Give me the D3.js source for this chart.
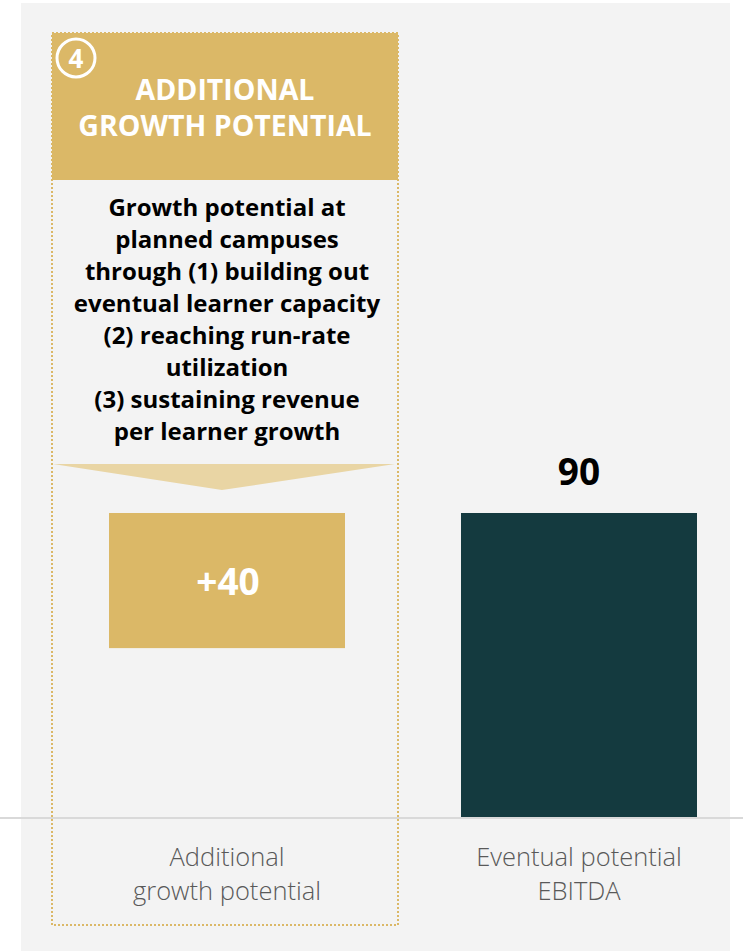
<!DOCTYPE html>
<html>
<head>
<meta charset="utf-8">
<script src="https://cdn.jsdelivr.net/npm/d3@7"></script>
<style>
  html, body { margin: 0; padding: 0; background: #ffffff; }
  svg { display: block; }
</style>
</head>
<body>
<svg id="chart" width="743" height="951"></svg>
<script>
// Bridge from planned-campus upside to eventual EBITDA
const categories = ["Additional growth potential", "Eventual potential EBITDA"];
const categoryLines = [["Additional", "growth potential"], ["Eventual potential", "EBITDA"]];
const barStart = [50, 0];
const barEnd = [90, 90];
const valueLabels = ["+40", "90"];
const calloutNumber = "4";
const calloutTitle = ["ADDITIONAL", "GROWTH POTENTIAL"];
const calloutBody = [
  "Growth potential at",
  "planned campuses",
  "through (1) building out",
  "eventual learner capacity",
  "(2) reaching run-rate",
  "utilization",
  "(3) sustaining revenue",
  "per learner growth"
];

const gold = "#dbb867";
const goldLight = "#e9d5a4";
const teal = "#143a3f";
const panel = "#f3f3f3";
const font = "'Open Sans', 'Noto Sans', sans-serif";

const svg = d3.select("#chart");

// Panel background
svg.append("rect").attr("x", 21).attr("y", 3).attr("width", 709).attr("height", 948).attr("fill", panel);

const x = d3.scaleBand().domain(categories).range([52, 756]).paddingInner(0).paddingOuter(0);
const y = d3.scaleLinear().domain([0, 90]).range([817, 513]);
const barW = 236;

// Dotted callout frame around the first category
const fx = x(categories[0]);
const fw = 346;
svg.append("rect")
  .attr("x", fx).attr("y", 33).attr("width", fw).attr("height", 892)
  .attr("fill", "none").attr("stroke", gold).attr("stroke-width", 2)
  .attr("stroke-dasharray", "2,2");

// Header block
svg.append("rect").attr("x", fx).attr("y", 33).attr("width", fw).attr("height", 147).attr("fill", gold);
svg.append("circle").attr("cx", 76).attr("cy", 58).attr("r", 19)
  .attr("fill", "none").attr("stroke", "#fff").attr("stroke-width", 3);
svg.append("text").attr("x", 76).attr("y", 67.5).attr("text-anchor", "middle")
  .attr("font-family", font).attr("font-weight", 700).attr("font-size", 26).attr("fill", "#fff")
  .text(calloutNumber);
svg.append("g").selectAll("text").data(calloutTitle).join("text")
  .attr("x", fx + fw / 2).attr("y", (d, i) => 100 + i * 36)
  .attr("text-anchor", "middle").attr("font-family", font).attr("font-weight", 700)
  .attr("font-size", 28.5).attr("fill", "#fff").text(d => d);

// Body text
svg.append("g").selectAll("text").data(calloutBody).join("text")
  .attr("x", fx + fw / 2 + 2).attr("y", (d, i) => 216 + i * 32)
  .attr("text-anchor", "middle").attr("font-family", font).attr("font-weight", 700)
  .attr("font-size", 24).attr("fill", "#000").text(d => d);

// Downward chevron into the bar
svg.append("path")
  .attr("d", `M${fx + 1},464 L${fx + fw - 3},464 L${fx + fw / 2 - 3},490 Z`)
  .attr("fill", goldLight);

// Baseline
svg.append("line").attr("x1", 0).attr("x2", 743).attr("y1", 818).attr("y2", 818)
  .attr("stroke", "#d9d9d9").attr("stroke-width", 2);

// Bars
const bars = categories.map((c, i) => ({ c, s: barStart[i], e: barEnd[i], label: valueLabels[i], i }));
const barX = d => x(d.c) + (x.bandwidth() - barW) / 2 - 1;
svg.append("g").selectAll("rect").data(bars).join("rect")
  .attr("x", barX).attr("width", barW)
  .attr("y", d => y(d.e)).attr("height", d => y(d.s) - y(d.e))
  .attr("fill", d => d.i === 0 ? gold : teal);

// Value labels: inside the floating bar, above the total bar
svg.append("g").selectAll("text").data(bars).join("text")
  .attr("x", d => barX(d) + barW / 2 + (d.i === 0 ? 1 : 0))
  .attr("y", d => d.i === 0 ? (y(d.s) + y(d.e)) / 2 + 14 : y(d.e) - 28)
  .attr("text-anchor", "middle").attr("font-family", font).attr("font-weight", 700)
  .attr("font-size", 37).attr("fill", d => d.i === 0 ? "#fff" : "#000")
  .text(d => d.label);

// Category labels
const cat = svg.append("g").selectAll("g").data(bars).join("g");
cat.selectAll("text").data(d => categoryLines[d.i].map(t => ({ t, d }))).join("text")
  .attr("x", o => barX(o.d) + barW / 2)
  .attr("y", (o, j) => 866 + j * 34)
  .attr("text-anchor", "middle").attr("font-family", font).attr("font-weight", 300)
  .attr("font-size", 25.5).attr("fill", "#595959").text(o => o.t);
</script>
</body>
</html>
